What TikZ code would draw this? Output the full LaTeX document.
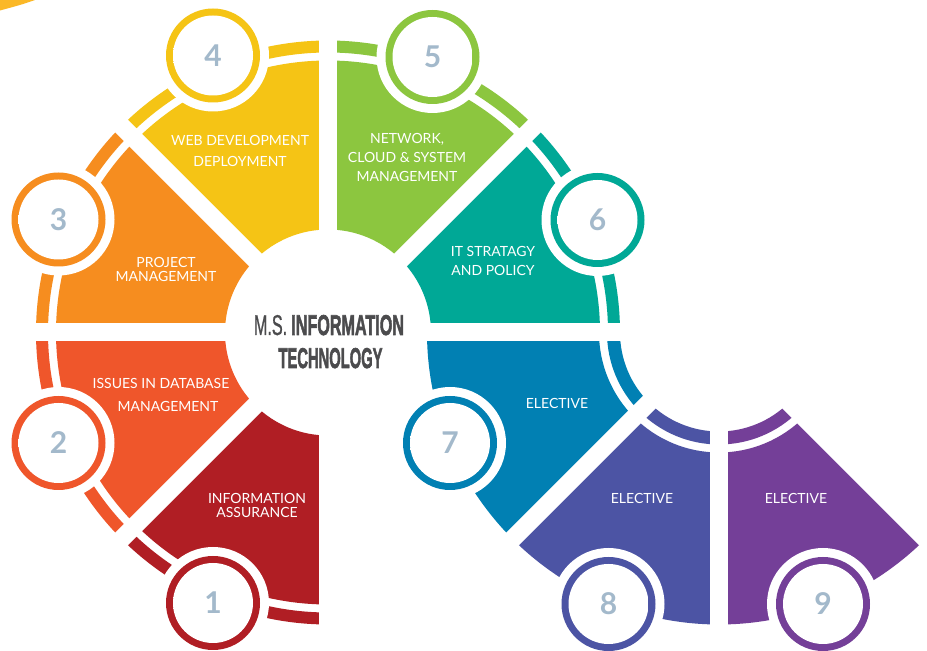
\documentclass[tikz,border=0pt]{standalone}
\usepackage{fontspec}
\setmainfont{Lato}
\newfontfamily\titlefont{Liberation Sans}[FakeBold=2.5]
\newfontfamily\titlemid{Liberation Sans}[FakeBold=1.2]
\usetikzlibrary{calc}

\definecolor{cA}{HTML}{B01E24}
\definecolor{cB}{HTML}{EF562B}
\definecolor{cC}{HTML}{F68D1F}
\definecolor{cD}{HTML}{F5C415}
\definecolor{cE}{HTML}{8CC63F}
\definecolor{cF}{HTML}{00A896}
\definecolor{cG}{HTML}{0180B3}
\definecolor{cH}{HTML}{4C54A4}
\definecolor{cI}{HTML}{743F98}
\definecolor{numcol}{HTML}{A3B9CB}
\definecolor{glowcol}{HTML}{C2D9EE}
\definecolor{titlecol}{HTML}{4B4B4D}
\definecolor{topyel}{HTML}{FBB827}

\pgfdeclareradialshading{numglow}{\pgfpoint{0bp}{0bp}}{color(0bp)=(white); color(37bp)=(white); color(50bp)=(glowcol)}

% center, start angle, end angle, inner radius, outer radius, colour
\newcommand\segfill[6]{%
  \fill[#6] ($(#1)+(#2:#4)$) arc[start angle=#2, end angle=#3, radius=#4]
    -- ($(#1)+(#3:#5)$) arc[start angle=#3, end angle=#2, radius=#5] -- cycle;}

% name, position, colour, number
\newcommand\numcirc[4]{%
  \fill[white] (#2) circle[radius=56];
  \fill[#3] (#2) circle[radius=47];
  \shade[shading=numglow] (#2) circle[radius=40];
  \node[numtxt] (#1) at ($(#2)+(0,-11)$) {#4};}

\begin{document}
\begin{tikzpicture}[x=1pt,y=1pt,
  gapline/.style={white, line width=18pt},
  lab/.style={text=white, font=\fontsize{14}{14}\selectfont, anchor=base, inner sep=0pt},
  numtxt/.style={text=numcol, font=\fontsize{30}{30}\selectfont\bfseries, anchor=base, inner sep=0pt},
  ttl/.style={text=titlecol, anchor=base, inner sep=0pt}]
\useasboundingbox (0,0) rectangle (927,651);
\fill[white] (0,0) rectangle (927,651);

\coordinate (R1) at (328,318.5);
\coordinate (R2) at (719,318.5);

% corner fragment
\fill[topyel] (0,651) -- (35,651) .. controls (22,646.5) .. (0,640.5) -- cycle;

% ring 1: main sectors and outer bands
\segfill{R1}{225}{270}{103}{272}{cA}
\segfill{R1}{225}{270}{280}{292}{cA}
\segfill{R1}{180}{225}{103}{272}{cB}
\segfill{R1}{180}{225}{280}{292}{cB}
\segfill{R1}{135}{180}{103}{272}{cC}
\segfill{R1}{135}{180}{280}{292}{cC}
\segfill{R1}{90}{135}{103}{272}{cD}
\segfill{R1}{90}{135}{280}{292}{cD}
\segfill{R1}{45}{90}{103}{272}{cE}
\segfill{R1}{45}{90}{280}{292}{cE}
\segfill{R1}{0}{45}{103}{272}{cF}
\segfill{R1}{0}{45}{280}{292}{cF}

% ring 2: inner bands and main sectors
\segfill{R2}{180}{225}{99}{112}{cG}
\segfill{R2}{180}{225}{120}{292}{cG}
\segfill{R2}{225}{270}{99}{112}{cH}
\segfill{R2}{225}{270}{120}{292}{cH}
\segfill{R2}{270}{315}{99}{112}{cI}
\segfill{R2}{270}{315}{120}{292}{cI}

% white gaps
\draw[gapline] ($(R1)+(180:300)$) -- ($(R1)+(0:300)$);
\draw[gapline] ($(R1)+(90:300)$) -- ($(R1)+(270:300)$);
\draw[gapline] (R1) -- ($(R1)+(45:300)$);
\draw[gapline] (R1) -- ($(R1)+(135:300)$);
\draw[gapline] (R1) -- ($(R1)+(225:300)$);
\draw[gapline] (R2) -- ($(R2)+(225:300)$);
\draw[gapline] (R2) -- ($(R2)+(270:300)$);
\draw[gapline] (R2) -- ($(R2)+(315:300)$);

% number circles
\coordinate (p1) at (213,48);
\coordinate (p2) at (58.5,208);
\coordinate (p3) at (58.5,431.5);
\coordinate (p4) at (213,595.5);
\coordinate (p5) at (432.5,594);
\coordinate (p6) at (597.5,431);
\coordinate (p7) at (450,208);
\coordinate (p8) at (608.5,47);
\coordinate (p9) at (823,47);
\numcirc{n1}{p1}{cA}{1}
\numcirc{n2}{p2}{cB}{2}
\numcirc{n3}{p3}{cC}{3}
\numcirc{n4}{p4}{cD}{4}
\numcirc{n5}{p5}{cE}{5}
\numcirc{n6}{p6}{cF}{6}
\numcirc{n7}{p7}{cG}{7}
\numcirc{n8}{p8}{cH}{8}
\numcirc{n9}{p9}{cI}{9}

% labels
\node[lab] (l4a) at (240,505) {WEB DEVELOPMENT};
\node[lab] (l4b) at (240,484) {DEPLOYMENT};
\node[lab] (l3a) at (166,383) {PROJECT};
\node[lab] (l3b) at (166,369) {MANAGEMENT};
\node[lab] (l5a) at (407,507) {NETWORK,};
\node[lab] (l5b) at (407,488) {CLOUD \& SYSTEM};
\node[lab] (l5c) at (407,469) {MANAGEMENT};
\node[lab] (l6a) at (493,394) {IT STRATAGY};
\node[lab] (l6b) at (493,375) {AND POLICY};
\node[lab] (l2a) at (161,262) {ISSUES IN DATABASE};
\node[lab] (l2b) at (168,239) {MANAGEMENT};
\node[lab] (l1a) at (257,147) {INFORMATION};
\node[lab] (l1b) at (257,133) {ASSURANCE};
\node[lab] (l7) at (557,242) {ELECTIVE};
\node[lab] (l8) at (642,147) {ELECTIVE};
\node[lab] (l9) at (796,147) {ELECTIVE};

% title
\node[ttl] (t1) at (329,316) {\resizebox{150pt}{20pt}{{\titlemid M.S.} {\titlefont\bfseries INFORMATION}}};
\node[ttl] (t2) at (330.5,283) {\resizebox{104pt}{20pt}{\titlefont\bfseries TECHNOLOGY}};
\end{tikzpicture}
\end{document}
